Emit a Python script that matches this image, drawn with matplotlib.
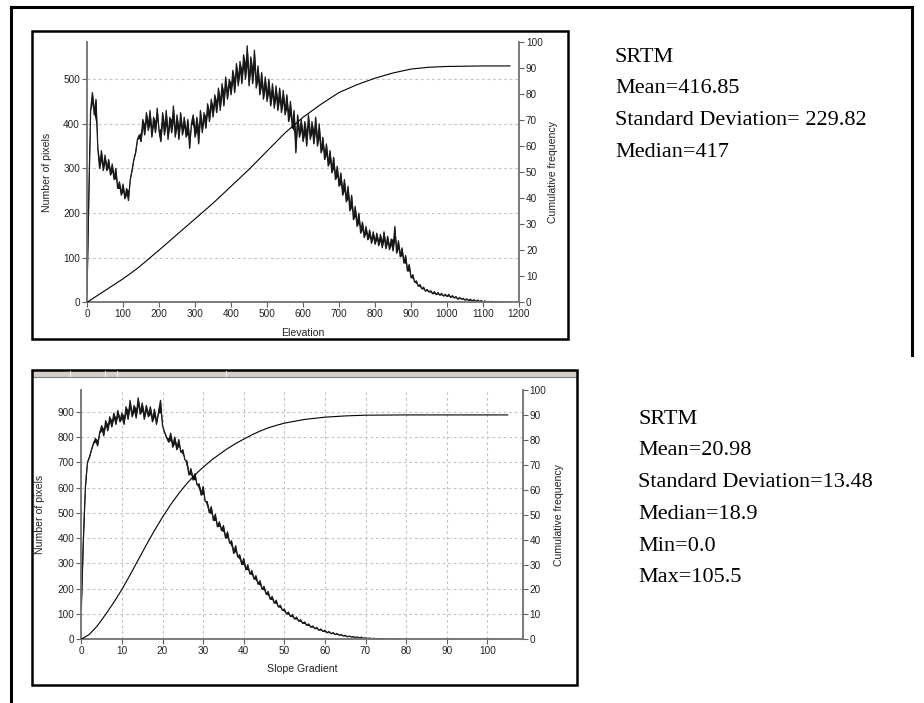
import numpy as np
import matplotlib
matplotlib.use("Agg")
import matplotlib.pyplot as plt
from matplotlib.patches import Rectangle
from matplotlib.lines import Line2D

# ---------------- data ----------------
elev_step = 5
elev_counts = [
    20, 235, 430, 470, 420, 455, 345, 300, 340, 295,
    330, 295, 320, 285, 310, 275, 300, 255, 270, 240,
    265, 232, 255, 228, 275, 295, 320, 335, 365, 375,
    360, 410, 375, 425, 385, 430, 370, 415, 380, 435,
    385, 360, 425, 375, 430, 365, 415, 380, 440, 370,
    420, 365, 425, 375, 415, 370, 410, 345, 400, 420,
    370, 415, 355, 430, 380, 425, 390, 445, 405, 455,
    415, 465, 425, 480, 430, 490, 440, 505, 455, 500,
    465, 520, 470, 535, 485, 540, 490, 555, 500, 575,
    485, 550, 490, 565, 480, 530, 465, 515, 455, 505,
    450, 500, 440, 490, 435, 485, 430, 480, 425, 475,
    420, 465, 405, 450, 390, 430, 335, 420, 370, 410,
    360, 405, 350, 420, 365, 405, 355, 415, 350, 400,
    335, 370, 320, 355, 305, 340, 290, 325, 275, 305,
    260, 290, 240, 275, 225, 260, 205, 240, 185, 215,
    170, 200, 155, 180, 145, 170, 140, 162, 132, 158,
    130, 155, 127, 152, 122, 158, 120, 148, 118, 142,
    115, 170, 110, 138, 102, 122, 88, 105, 70, 85,
    55, 62, 45, 48, 36, 40, 30, 34, 25, 29,
    23, 26, 19, 24, 17, 22, 16, 20, 14, 18,
    13, 18, 11, 15, 10, 13, 7, 11, 7, 9,
    5, 8, 4, 7, 3, 6, 2, 5, 2, 4,
    1, 3, 1, 2, 0, 2, 0, 1, 0, 1,
    0, 1, 0, 0, 0, 0,
]
elev_cum_x = [0, 50, 100, 140, 200, 250, 300, 350, 400, 450, 500, 550, 600,
              650, 700, 750, 800, 850, 900, 950, 1000, 1100, 1175]
elev_cum_y = [0, 4.5, 9, 13, 20, 26, 32, 38, 44.5, 51, 58, 65, 71,
              76, 80.5, 83.5, 86, 88, 89.5, 90.2, 90.5, 90.7, 90.7]

slope_step = 0.5
slope_counts = [
    120, 390, 600, 700, 720, 750, 775, 795, 765, 815,
    845, 805, 865, 825, 880, 840, 895, 850, 905, 860,
    895, 850, 920, 870, 945, 880, 925, 875, 955, 890,
    935, 870, 925, 880, 920, 860, 910, 850, 895, 945,
    845, 820, 800, 780, 815, 760, 800, 750, 790, 740,
    750, 710, 705, 650, 675, 630, 655, 610, 615, 570,
    605, 545, 545, 500, 525, 470, 495, 445, 465, 430,
    450, 400, 425, 380, 390, 340, 370, 325, 335, 295,
    320, 275, 295, 258, 272, 238, 252, 218, 232, 198,
    210, 178, 190, 158, 170, 143, 155, 128, 135, 115,
    120, 100, 108, 90, 98, 80, 88, 72, 78, 63,
    69, 55, 61, 48, 53, 42, 47, 36, 41, 31,
    36, 26, 31, 22, 27, 19, 23, 16, 19, 13,
    16, 10, 13, 9, 11, 7, 9, 6, 8, 4,
    6, 3, 5, 2, 4, 2, 3, 1, 3, 1,
    2, 1, 2, 0, 1, 0, 1, 0, 0, 0,
    0, 0, 0, 0, 0, 0, 0, 0, 0, 0,
    0, 0, 0, 0, 0, 0, 0, 0, 0, 0,
    0, 0, 0, 0, 0, 0, 0, 0, 0, 0,
    0, 0, 0, 0, 0, 0, 0, 0, 0, 0,
    0, 0, 0, 0, 0, 0, 0, 0, 0, 0,
    0,
]
slope_cum_x = [0, 2, 4, 6, 8, 10, 12, 14, 16, 18, 20, 22, 24, 26, 28, 30, 32,
               34, 36, 38, 40, 42, 44, 46, 48, 50, 55, 60, 65, 70, 80, 105]
slope_cum_y = [0, 2, 5.5, 10, 14.8, 20, 25.8, 31.8, 37.8, 43.6, 49, 54, 58.5,
               62.5, 66, 69, 71.8, 74.2, 76.5, 78.5, 80.3, 82, 83.5, 84.8, 85.8,
               86.7, 88.2, 89.1, 89.6, 89.9, 90, 90]

elev_xticks = list(range(0, 1201, 100))
elev_yticks = [0, 100, 200, 300, 400, 500]
slope_xticks = list(range(0, 101, 10))
slope_yticks = list(range(0, 901, 100))
cum_ticks = list(range(0, 101, 10))

text_top = ["SRTM", "Mean=416.85", "Standard Deviation= 229.82", "Median=417"]
text_bot = ["SRTM", "Mean=20.98", "Standard Deviation=13.48", "Median=18.9",
            "Min=0.0", "Max=105.5"]

# ---------------- figure ----------------
W, H = 924, 703
fig = plt.figure(figsize=(W / 100, H / 100), dpi=100)
fig.patch.set_facecolor("white")


def fx(x):
    return x / W


def fy(y):
    return 1 - y / H


SANS = ["Liberation Sans", "DejaVu Sans"]
SERIF = ["Liberation Serif", "DejaVu Serif"]

# outer page border
for xs, ys in [([11, 11], [7, 703]), ([11, 912], [7, 7]), ([912, 912], [7, 355])]:
    fig.add_artist(Line2D([fx(v) for v in xs], [fy(v) for v in ys],
                          color="black", lw=2.2, transform=fig.transFigure))

# panel frames
fig.add_artist(Rectangle((fx(32), fy(339)), fx(568) - fx(32), fy(31) - fy(339),
                         transform=fig.transFigure, fill=False, ec="black", lw=1.8))
fig.add_artist(Rectangle((fx(32), fy(377)), fx(577) - fx(32), fy(370) - fy(377),
                         transform=fig.transFigure, fc="#d4d0c8", ec="#808080", lw=0.8))
for xv in [70, 105, 117, 226]:
    fig.add_artist(Line2D([fx(xv), fx(xv)], [fy(371), fy(376)], color="#f4f4f4",
                          lw=0.8, transform=fig.transFigure))
fig.add_artist(Rectangle((fx(32), fy(685)), fx(577) - fx(32), fy(370) - fy(685),
                         transform=fig.transFigure, fill=False, ec="black", lw=1.8))


def style(ax, axr, xlim, ylim, xticks, yticks, xlabel, xgrid):
    ax.set_xlim(*xlim)
    ax.set_ylim(*ylim)
    axr.set_ylim(0, 100)
    ax.set_xticks(xticks)
    ax.set_yticks(yticks)
    axr.set_yticks(cum_ticks)
    for a in (ax, axr):
        a.set_facecolor("none")
        a.spines["top"].set_visible(False)
        for s in ("left", "bottom", "right"):
            a.spines[s].set_color("#707070")
            a.spines[s].set_linewidth(1.3)
        a.tick_params(direction="out", length=3.5, width=0.8, color="#606060",
                      labelsize=7.2, labelcolor="#222222", pad=1.5)
        for lab in a.get_xticklabels() + a.get_yticklabels():
            lab.set_family(SANS)
    ax.spines["right"].set_visible(False)
    axr.spines["left"].set_visible(False)
    axr.spines["bottom"].set_visible(False)
    ax.yaxis.grid(True, ls=(0, (2.5, 2.5)), color="#c4c4c4", lw=0.8)
    if xgrid:
        ax.xaxis.grid(True, ls=(0, (2.5, 2.5)), color="#c4c4c4", lw=0.8)
    ax.set_axisbelow(True)
    ax.set_xlabel(xlabel, fontsize=7.6, family=SANS, color="#222222")
    ax.set_ylabel("Number of pixels", fontsize=7.6, family=SANS, color="#222222")
    axr.set_ylabel("Cumulative frequency", fontsize=7.6, family=SANS, color="#222222")


def noisy_hist(ax, x, counts):
    c = np.asarray(counts, dtype=float)
    # band covered by the jagged trace (neighbouring extremes), drawn dark
    lo = np.minimum(c, np.r_[c[1:], c[-1]])
    hi = np.maximum(c, np.r_[c[1:], c[-1]])
    mid_lo = 0.5 * (lo + c)
    mid_hi = 0.5 * (hi + c)
    ax.fill_between(x, mid_lo, mid_hi, color="#111111", lw=0)
    ax.plot(x, c, color="#1a1a1a", lw=0.9)


# ---- top chart: elevation ----
ax1 = fig.add_axes([fx(87), fy(302.3), (519 - 87) / W, (302.3 - 41.7) / H])
ax1r = ax1.twinx()
ex = np.arange(len(elev_counts)) * elev_step
noisy_hist(ax1, ex, elev_counts)
ax1r.plot(elev_cum_x, elev_cum_y, color="black", lw=0.8)
style(ax1, ax1r, (0, 1200), (0, 584), elev_xticks, elev_yticks, "Elevation", False)
ax1.yaxis.set_label_coords(-0.081, 0.5)
ax1r.yaxis.set_label_coords(1.067, 0.5)
ax1.xaxis.set_label_coords(0.5, -0.098)

# ---- bottom chart: slope ----
ax2 = fig.add_axes([fx(81.3), fy(639.3), (522.7 - 81.3) / W, (639.3 - 390) / H])
ax2r = ax2.twinx()
sx = np.arange(len(slope_counts)) * slope_step
noisy_hist(ax2, sx, slope_counts)
ax2r.plot(slope_cum_x, slope_cum_y, color="black", lw=0.8)
style(ax2, ax2r, (0, 108.7), (0, 986), slope_xticks, slope_yticks, "Slope Gradient", True)
ax2.yaxis.set_label_coords(-0.082, 0.5)
ax2r.yaxis.set_label_coords(1.071, 0.5)
ax2.xaxis.set_label_coords(0.5, -0.100)

# ---- statistics text ----
for i, t in enumerate(text_top):
    fig.text(fx(615), fy(61.5 + i * 31.7), t, fontsize=16, family=SERIF,
             va="baseline", ha="left", color="black")
for i, t in enumerate(text_bot):
    fig.text(fx(638), fy(423.5 + i * 31.8), t, fontsize=16, family=SERIF,
             va="baseline", ha="left", color="black")

fig.savefig("out.png", dpi=100)
